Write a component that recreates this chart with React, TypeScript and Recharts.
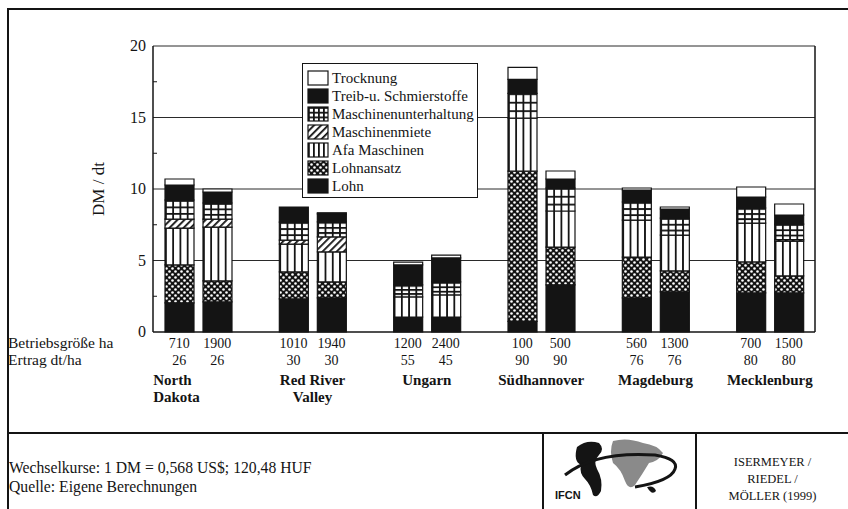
import React from "react"
import { BarChart, Bar, XAxis, YAxis, CartesianGrid, Legend } from "recharts"

const regions = [["North", "Dakota"], ["Red River", "Valley"], ["Ungarn"], ["Südhannover"], ["Magdeburg"], ["Mecklenburg"]]
const sizeSmall = [710, 1010, 1200, 100, 560, 700]
const sizeLarge = [1900, 1940, 2400, 500, 1300, 1500]
const yieldSmall = [26, 30, 55, 90, 76, 80]
const yieldLarge = [26, 30, 45, 90, 76, 80]

// one value per bar, two bars per region (smaller farm first)
const lohn = [2.03, 2.1, 2.31, 2.38, 1.05, 1.05, 0.75, 3.29, 2.38, 2.8, 2.73, 2.73]
const lohnansatz = [2.66, 1.47, 1.89, 1.12, 0, 0, 10.5, 2.65, 2.86, 1.47, 2.17, 1.19]
const afa = [2.58, 3.77, 1.95, 2.1, 1.4, 1.54, 3.7, 2.52, 2.59, 2.51, 2.72, 2.44]
const miete = [0.63, 0.56, 0.28, 1.05, 0, 0, 0, 0, 0, 0, 0, 0.1]
const unterhaltung = [1.33, 1.12, 1.26, 1.05, 0.84, 0.91, 1.74, 1.61, 1.26, 1.19, 1.05, 1.09]
const treibstoffe = [1.05, 0.77, 1.05, 0.56, 1.4, 1.68, 0.98, 0.63, 0.84, 0.63, 0.77, 0.63]
const trocknung = [0.42, 0.21, 0, 0.08, 0.2, 0.2, 0.84, 0.56, 0.14, 0.14, 0.7, 0.77]

const yTicks = [0, 2.5, 5, 7.5, 10, 12.5, 15, 17.5, 20]
const yGrid = [5, 10, 15, 20]

const INK = "#141414"
const SERIF = "'Liberation Serif', 'Times New Roman', serif"
const BAR = 29
const GAP = 9
const HALF = (BAR + GAP) / 2
const TICK_MARGIN = 7

const series = [
  { key: "lohn", name: "Lohn", values: lohn, fill: INK },
  { key: "lohnansatz", name: "Lohnansatz", values: lohnansatz, fill: "url(#pCheck)" },
  { key: "afa", name: "Afa Maschinen", values: afa, fill: "url(#pVert)" },
  { key: "miete", name: "Maschinenmiete", values: miete, fill: "url(#pDiag)" },
  { key: "unterhaltung", name: "Maschinenunterhaltung", values: unterhaltung, fill: "url(#pGrid)" },
  { key: "treib", name: "Treib-u. Schmierstoffe", values: treibstoffe, fill: INK },
  { key: "trocknung", name: "Trocknung", values: trocknung, fill: "#fff" },
]

const data = regions.map((r, i) => {
  const row: Record<string, any> = { region: r.join(" ") }
  series.forEach((s) => {
    row[s.key + "A"] = s.values[2 * i]
    row[s.key + "B"] = s.values[2 * i + 1]
  })
  return row
})

function RegionTick({ x, y, index }: any) {
  const t = { fontFamily: SERIF, fontSize: 14, fill: INK }
  const first = index === 0
  return (
    <g>
      <text x={x - HALF} y={y + 16} textAnchor="middle" {...t}>{sizeSmall[index]}</text>
      <text x={x + HALF} y={y + 16} textAnchor="middle" {...t}>{sizeLarge[index]}</text>
      <text x={x - HALF} y={y + 33} textAnchor="middle" {...t}>{yieldSmall[index]}</text>
      <text x={x + HALF} y={y + 33} textAnchor="middle" {...t}>{yieldLarge[index]}</text>
      {regions[index].map((line, k) => (
        <text key={k} x={first ? x - 45 : x} y={y + 53 + k * 17} textAnchor={first ? "start" : "middle"}
          {...t} fontSize={15} fontWeight="bold">{line}</text>
      ))}
    </g>
  )
}

function ValueTick({ x, y, payload }: any) {
  const v = payload.value
  if (v % 5 !== 0) {
    return <line x1={x + TICK_MARGIN} x2={x + TICK_MARGIN + 4} y1={y} y2={y} stroke={INK} />
  }
  return <text x={x} y={y} dy={5} textAnchor="end" fontFamily={SERIF} fontSize={16} fill={INK}>{v}</text>
}

function LegendBox() {
  return (
    <div style={{ border: `1px solid ${INK}`, background: "#fff", width: 176, height: 135, boxSizing: "border-box",
      padding: "5px 0 0 4px", fontFamily: SERIF, fontSize: 15, color: INK }}>
      {[...series].reverse().map((s) => (
        <div key={s.key} style={{ display: "flex", alignItems: "center", height: 18 }}>
          <svg width={22} height={16} style={{ display: "block", flex: "none" }}>
            <rect x={1} y={1} width={20} height={14} fill={s.fill} stroke={INK} strokeWidth={1.2} />
          </svg>
          <span style={{ marginLeft: 3, whiteSpace: "nowrap" }}>{s.name}</span>
        </div>
      ))}
    </div>
  )
}

function Logo() {
  return (
    <svg width={150} height={76} style={{ position: "absolute", left: 543, top: 433 }}>
      <path d="M70 8 q14 -4 30 2 q14 2 20 10 q-4 8 -14 10 q-6 10 -14 22 q-6 6 -10 -4 q-4 -12 -12 -18 q-4 -12 0 -22 z" fill="#8a8a8a" />
      <path d="M34 14 q10 -8 22 -4 q6 6 0 12 q-6 6 -2 14 q6 10 4 22 q-4 8 -8 4 q-2 -10 -8 -16 q-6 -6 -4 -14 q-8 -4 -4 -18 z" fill={INK} />
      <path d="M104 54 q7 -2 9 4 q-4 5 -9 -4 z" fill={INK} />
      <path d="M22 42 q30 -24 90 -20 q24 4 20 14 q-4 12 -40 18" fill="none" stroke={INK} strokeWidth={3} />
      <text x={12} y={66} fontFamily="'Liberation Sans', Arial, sans-serif" fontWeight="bold" fontSize={11} fill={INK}>IFCN</text>
    </svg>
  )
}

const line = (style: React.CSSProperties) => <div style={{ position: "absolute", background: INK, ...style }} />
const txt = { position: "absolute" as const, fontFamily: SERIF, color: INK, whiteSpace: "nowrap" as const }

export default function App() {
  return (
    <div style={{ position: "fixed", left: 0, top: 0, width: 848, height: 509, background: "#fff", overflow: "hidden" }}>
      <BarChart width={848} height={509} data={data} margin={{ top: 46, right: 32, bottom: 0, left: 93 }}
        barSize={BAR} barGap={GAP}>
        <defs>
          <pattern id="pCheck" patternUnits="userSpaceOnUse" width={6} height={6}>
            <rect width={6} height={6} fill={INK} />
            <circle cx={1.5} cy={1.5} r={1.3} fill="#fff" />
            <circle cx={4.5} cy={4.5} r={1.3} fill="#fff" />
          </pattern>
          <pattern id="pVert" patternUnits="objectBoundingBox" patternContentUnits="userSpaceOnUse" width={0.25} height={1}>
            <rect width={100} height={400} fill="#fff" />
            <rect width={1.8} height={400} fill={INK} />
          </pattern>
          <pattern id="pGrid" patternUnits="objectBoundingBox" patternContentUnits="userSpaceOnUse" width={0.25} height={0.34}>
            <rect width={100} height={400} fill="#fff" />
            <rect width={1.8} height={400} fill={INK} />
            <rect width={100} height={1.8} fill={INK} />
          </pattern>
          <pattern id="pDiag" patternUnits="userSpaceOnUse" width={5} height={5} patternTransform="rotate(45)">
            <rect width={5} height={5} fill="#fff" />
            <rect width={1.8} height={5} fill={INK} />
          </pattern>
        </defs>
        <CartesianGrid vertical={false} horizontalValues={yGrid} stroke="#2a2a2a" strokeWidth={1} />
        <XAxis dataKey="region" height={177} padding={{ left: -12, right: -12 }} tickLine={false} tickSize={0}
          tickMargin={0} axisLine={{ stroke: INK, strokeWidth: 1.5 }} tick={<RegionTick />} interval={0} />
        <YAxis width={60} domain={[0, 20]} ticks={yTicks} interval={0} tickLine={false} tickSize={0}
          tickMargin={TICK_MARGIN} axisLine={{ stroke: INK, strokeWidth: 1.5 }} tick={<ValueTick />}
          label={{ content: () => (
            <text x={104} y={189} transform="rotate(-90 104 189)" textAnchor="middle" fontFamily={SERIF} fontSize={17} fill={INK}>DM / dt</text>
          ) }} />
        <YAxis yAxisId="frame" orientation="right" width={1} domain={[0, 20]} tick={false} tickLine={false}
          axisLine={{ stroke: INK, strokeWidth: 1.5 }} />
        {["A", "B"].map((side) =>
          series.map((s) => (
            <Bar key={s.key + side} dataKey={s.key + side} name={s.name} stackId={side} fill={s.fill}
              stroke={INK} strokeWidth={1.2} isAnimationActive={false} />
          ))
        )}
        <Legend layout="vertical" align="center" verticalAlign="middle" wrapperStyle={{ left: 302, top: 63, width: 176 }}
          content={() => <LegendBox />} />
      </BarChart>

      <div style={{ ...txt, left: 8, top: 335, fontSize: 15.5, lineHeight: "16px" }}>Betriebsgröße ha</div>
      <div style={{ ...txt, left: 8, top: 352, fontSize: 15.5, lineHeight: "16px" }}>Ertrag dt/ha</div>

      {line({ left: 7, top: 8, width: 841, height: 1.5 })}
      {line({ left: 7, top: 8, width: 1.5, height: 501 })}
      {line({ left: 7, top: 432, width: 841, height: 1.5 })}
      {line({ left: 542, top: 432, width: 1.5, height: 77 })}
      {line({ left: 695, top: 432, width: 1.5, height: 77 })}

      <div style={{ ...txt, left: 9, top: 459, fontSize: 15.7 }}>Wechselkurse: 1 DM = 0,568 US$; 120,48 HUF</div>
      <div style={{ ...txt, left: 9, top: 478, fontSize: 15.7 }}>Quelle: Eigene Berechnungen</div>
      <Logo />
      <div style={{ ...txt, left: 697, width: 151, top: 454, fontSize: 12.5, textAlign: "center", lineHeight: "17px" }}>
        ISERMEYER /<br />RIEDEL /<br />MÖLLER (1999)
      </div>
    </div>
  )
}
